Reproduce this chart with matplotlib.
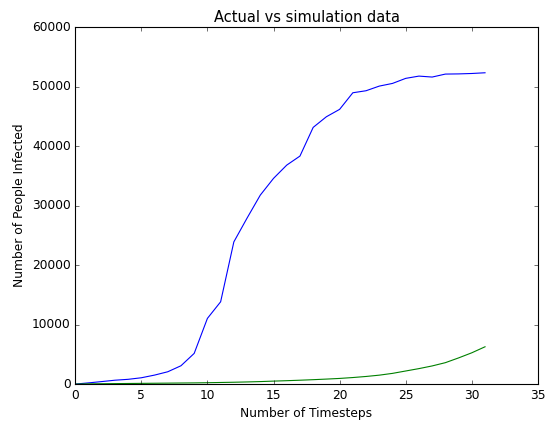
import matplotlib
matplotlib.use('Agg')
import matplotlib.pyplot as plt

timesteps = list(range(32))
actual = [0, 200, 420, 650, 800, 1060, 1510, 2070, 3080, 5160,
          11040, 13830, 23900, 27900, 31760, 34570, 36800, 38320, 43140, 44930,
          46170, 48960, 49300, 50080, 50530, 51380, 51760, 51600, 52100, 52130,
          52200, 52320]
simulated = [0, 40, 60, 80, 100, 120, 140, 160, 180, 200,
             230, 270, 310, 360, 420, 500, 570, 650, 740, 840,
             950, 1100, 1280, 1500, 1800, 2200, 2600, 3050, 3600, 4400,
             5260, 6270]

plt.style.use('classic')
plt.rcParams['figure.facecolor'] = 'white'
plt.rcParams['savefig.facecolor'] = 'white'
plt.rcParams['font.size'] = 11

# classic output at 80 dpi
fig = plt.figure(figsize=(545 / 80, 423 / 80), dpi=80)
ax = fig.add_subplot(111)
ax.plot(timesteps, actual, color='b')
ax.plot(timesteps, simulated, color='g')
ax.set_xlim(0, 35)
ax.set_ylim(0, 60000)
ax.set_title('Actual vs simulation data')
ax.set_xlabel('Number of Timesteps')
ax.set_ylabel('Number of People Infected')
fig.subplots_adjust(left=0.138, right=0.987, bottom=0.092, top=0.936)
fig.savefig('out.png', dpi=80)
